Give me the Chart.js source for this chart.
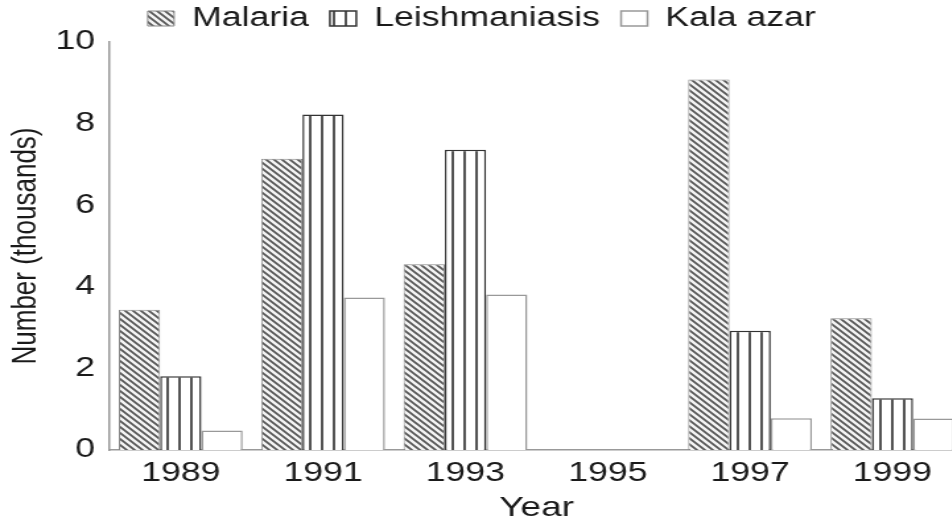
<!DOCTYPE html>
<html>
<head>
<meta charset="utf-8">
<script src="https://cdn.jsdelivr.net/npm/chart.js@4"></script>
<style>
  html, body { margin: 0; padding: 0; background: #fff; overflow: hidden; }
  /* the source picture is stretched sideways, so the whole chart is too */
  #wrap { width: 730px; height: 525px; transform: scaleX(1.32); transform-origin: 0 0; }
</style>
</head>
<body>
<div id="wrap"><canvas id="chart" width="730" height="525"></canvas></div>
<script>
const years = ['1989', '1991', '1993', '1995', '1997', '1999'];
const malaria = [3.44, 7.14, 4.55, null, 9.08, 3.23];
const leishmaniasis = [1.81, 8.22, 7.36, null, 2.92, 1.27];
const kalaAzar = [0.48, 3.74, 3.81, null, 0.78, 0.77];

const FONT = "'Liberation Sans', Arial, sans-serif";
const TEXT = '#1a1a1a';

document.addEventListener('DOMContentLoaded', function() {
    const canvas = document.getElementById('chart');
    const ctx = canvas.getContext('2d');

    // diagonal hatch for Malaria
    function hatchPattern() {
        const t = document.createElement('canvas');
        t.width = 6; t.height = 6;
        const g = t.getContext('2d');
        g.fillStyle = '#f4f4f4';
        g.fillRect(0, 0, 6, 6);
        g.strokeStyle = '#555';
        g.lineWidth = 1.7;
        g.beginPath();
        g.moveTo(-1, -1); g.lineTo(7, 7);
        g.moveTo(-1, 5); g.lineTo(1, 7);
        g.moveTo(5, -1); g.lineTo(7, 1);
        g.stroke();
        return ctx.createPattern(t, 'repeat');
    }

    // vertical stripes for Leishmaniasis
    function stripePattern() {
        const t = document.createElement('canvas');
        t.width = 9; t.height = 4;
        const g = t.getContext('2d');
        g.fillStyle = '#fff';
        g.fillRect(0, 0, 9, 4);
        g.fillStyle = '#555';
        g.fillRect(0, 0, 2, 4);
        return ctx.createPattern(t, 'repeat');
    }

    new Chart(ctx, {
        type: 'bar',
        data: {
            labels: years,
            datasets: [{
                label: 'Malaria',
                data: malaria,
                backgroundColor: hatchPattern(),
                borderColor: '#888',
                borderWidth: 1
            }, {
                label: 'Leishmaniasis',
                data: leishmaniasis,
                backgroundColor: stripePattern(),
                borderColor: '#333',
                borderWidth: 1.5
            }, {
                label: 'Kala azar',
                data: kalaAzar,
                backgroundColor: '#fff',
                borderColor: '#999',
                borderWidth: 1.5
            }]
        },
        options: {
            responsive: false,
            animation: false,
            devicePixelRatio: 1,
            layout: {
                padding: { top: -11, left: 0, right: 0, bottom: 0 }
            },
            datasets: {
                bar: {
                    categoryPercentage: 0.87,
                    barPercentage: 1.0
                }
            },
            plugins: {
                legend: {
                    position: 'top',
                    labels: {
                        boxWidth: 20,
                        boxHeight: 15,
                        padding: 16,
                        color: TEXT,
                        font: { family: FONT, size: 27 }
                    }
                },
                tooltip: { enabled: false }
            },
            scales: {
                x: {
                    grid: { display: false, drawTicks: false },
                    border: { display: true, color: '#999', width: 1.5 },
                    ticks: {
                        color: TEXT,
                        padding: 7,
                        font: { family: FONT, size: 27 }
                    },
                    title: {
                        display: true,
                        text: 'Year',
                        color: TEXT,
                        padding: { top: 0, bottom: 0 },
                        font: { family: FONT, size: 28 }
                    },
                    afterFit: function(scale) { scale.height = 75; }
                },
                y: {
                    min: 0,
                    max: 10,
                    grid: { display: false, drawTicks: false },
                    border: { display: true, color: '#999', width: 1.5 },
                    ticks: {
                        stepSize: 2,
                        color: TEXT,
                        padding: 11,
                        font: { family: FONT, size: 27 }
                    },
                    title: {
                        display: true,
                        text: 'Number (thousands)',
                        color: TEXT,
                        padding: { top: 4, bottom: 0 },
                        font: { family: FONT, size: 26 }
                    },
                    afterFit: function(scale) { scale.width = 83; }
                }
            }
        }
    });
});
</script>
</body>
</html>
